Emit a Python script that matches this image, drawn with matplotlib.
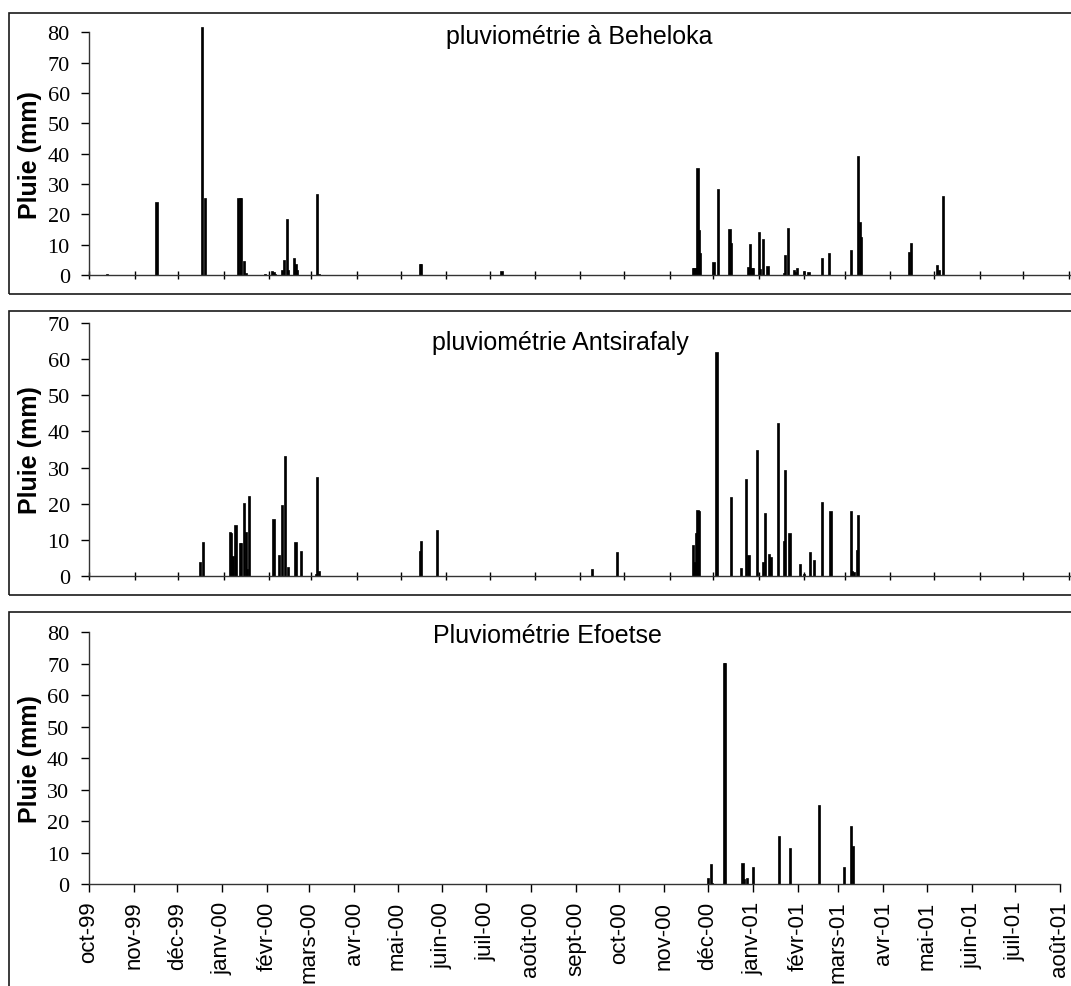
import matplotlib
matplotlib.use("Agg")
import matplotlib.pyplot as plt
import matplotlib.dates as mdates
from matplotlib.patches import Rectangle
import pandas as pd

# Daily rainfall (mm)
beheloka_dates = ["1999-10-13", "1999-11-16", "1999-12-17", "1999-12-19", "2000-01-11", "2000-01-12",
                  "2000-01-13", "2000-01-15", "2000-01-16", "2000-01-29", "2000-02-03", "2000-02-04",
                  "2000-02-05", "2000-02-10", "2000-02-11", "2000-02-13", "2000-02-14", "2000-02-18",
                  "2000-02-19", "2000-02-20", "2000-03-05", "2000-03-06", "2000-05-14", "2000-05-15",
                  "2000-07-09", "2000-11-17", "2000-11-18", "2000-11-19", "2000-11-20", "2000-11-21",
                  "2000-11-22", "2000-12-01", "2000-12-04", "2000-12-12", "2000-12-13", "2000-12-25",
                  "2000-12-26", "2000-12-27", "2000-12-28", "2001-01-01", "2001-01-02", "2001-01-04",
                  "2001-01-07", "2001-01-18", "2001-01-19", "2001-01-21", "2001-01-25", "2001-01-26",
                  "2001-01-27", "2001-02-01", "2001-02-04", "2001-02-13", "2001-02-18", "2001-03-05",
                  "2001-03-10", "2001-03-11", "2001-03-12", "2001-04-14", "2001-04-15", "2001-05-03",
                  "2001-05-04", "2001-05-07"]
beheloka_rain = [0.3, 24, 81.6, 25.4, 25.3, 25.3, 25.3, 4.7, 0.5, 0.3, 1.3, 1.0, 0.4, 1.5, 4.9, 18.3,
                 1.5, 5.6, 3.5, 1.5, 26.7, 0.3, 3.7, 3.7, 1.3, 2.4, 2.4, 2.4, 35.2, 14.8, 7.3, 4.4,
                 28.4, 15.3, 10.5, 2.5, 10.1, 2.3, 2.2, 14.1, 2.0, 11.9, 2.9, 0.8, 6.6, 15.4, 1.5,
                 1.0, 2.2, 1.4, 1.1, 5.5, 7.3, 8.3, 39.3, 17.6, 12.6, 7.5, 10.7, 3.3, 1.8, 26.2]

antsirafaly_dates = ["1999-12-16", "1999-12-18", "2000-01-05", "2000-01-06", "2000-01-07", "2000-01-09",
                     "2000-01-12", "2000-01-13", "2000-01-15", "2000-01-16", "2000-01-17", "2000-01-18",
                     "2000-02-04", "2000-02-08", "2000-02-10", "2000-02-12", "2000-02-14", "2000-02-19",
                     "2000-02-23", "2000-03-04", "2000-03-05", "2000-03-06", "2000-05-14", "2000-05-15",
                     "2000-05-26", "2000-09-09", "2000-09-26", "2000-11-17", "2000-11-18", "2000-11-19",
                     "2000-11-20", "2000-11-21", "2000-12-03", "2000-12-13", "2000-12-20", "2000-12-23",
                     "2000-12-25", "2000-12-31", "2001-01-04", "2001-01-05", "2001-01-08", "2001-01-09",
                     "2001-01-14", "2001-01-18", "2001-01-19", "2001-01-22", "2001-01-29", "2001-02-01",
                     "2001-02-05", "2001-02-08", "2001-02-13", "2001-02-19", "2001-03-05", "2001-03-06",
                     "2001-03-07", "2001-03-09", "2001-03-10"]
antsirafaly_rain = [4.0, 9.5, 12.1, 12.0, 5.5, 14.1, 9.0, 9.0, 20.1, 12.3, 2.0, 22.1, 15.7, 5.8, 19.6,
                    33.3, 2.5, 9.5, 7.0, 0.5, 27.4, 1.5, 7.0, 9.6, 12.8, 2.0, 6.7, 8.6, 4.0, 11.8, 18.2,
                    18.0, 62.0, 21.8, 2.3, 26.8, 5.8, 34.8, 4.0, 17.5, 6.0, 5.2, 42.2, 9.8, 29.3, 12.0,
                    3.3, 0.5, 6.7, 4.5, 20.5, 18.1, 18.0, 1.5, 1.0, 7.1, 17.0]

efoetse_dates = ["2000-12-01", "2000-12-03", "2000-12-04", "2000-12-12", "2000-12-13", "2000-12-25",
                 "2000-12-26", "2000-12-28", "2001-01-01", "2001-01-19", "2001-01-27", "2001-02-16",
                 "2001-03-05", "2001-03-10", "2001-03-11"]
efoetse_rain = [2.0, 6.2, 0.3, 70.2, 70.2, 6.8, 1.5, 2.0, 5.3, 15.2, 11.3, 25.2, 5.3, 18.3, 12.2]

month_labels = ["oct-99", "nov-99", "déc-99", "janv-00", "févr-00", "mars-00", "avr-00", "mai-00",
                "juin-00", "juil-00", "août-00", "sept-00", "oct-00", "nov-00", "déc-00", "janv-01",
                "févr-01", "mars-01", "avr-01", "mai-01", "juin-01", "juil-01", "août-01"]

titles = ["pluviométrie à Beheloka", "pluviométrie Antsirafaly", "Pluviométrie Efoetse"]
ymax = [80, 70, 80]

W, H = 1071, 987
fig = plt.figure(figsize=(W / 100, H / 100), dpi=100)

sans = "Liberation Sans"
serif = "Liberation Serif"
axis_col = "#333333"

month_ticks = mdates.date2num(pd.date_range("1999-10-01", "2001-08-01", freq="MS"))
start = mdates.date2num(pd.Timestamp("1999-10-01"))
end = mdates.date2num(pd.Timestamp("2001-08-01"))

# panel layout in pixels: (left, x at end date, top of y range, y of zero, extra days past end)
layout = [
    (89.3, 1068.7, 33.3, 276.0, 4),
    (89.3, 1068.7, 324.0, 577.0, 4),
    (88.8, 1060.0, 633.3, 885.0, 0),
]
frames = [(9, 14, 295), (9, 312, 596), (9, 613, 1000)]
title_pos = [(579, 44), (560, 350), (547, 643)]

series = [(beheloka_dates, beheloka_rain),
          (antsirafaly_dates, antsirafaly_rain),
          (efoetse_dates, efoetse_rain)]

for i, (dates, rain) in enumerate(series):
    left, xend, ytop, yzero, extra = layout[i]
    ppd = (xend - left) / (end - start)
    right = xend + extra * ppd
    ax = fig.add_axes([left / W, 1 - yzero / H, (right - left) / W, (yzero - ytop) / H])

    x = mdates.date2num(pd.to_datetime(dates))
    ax.bar(x, rain, width=1.5, color="black", edgecolor="black", linewidth=0.5, clip_on=False)

    ax.set_xlim(start, end + extra)
    ax.set_ylim(0, ymax[i])
    ax.set_yticks(range(0, ymax[i] + 1, 10))
    ax.set_xticks(month_ticks)

    for s in ["top", "right"]:
        ax.spines[s].set_visible(False)
    for s in ["left", "bottom"]:
        ax.spines[s].set_color(axis_col)
        ax.spines[s].set_linewidth(1.0)

    ax.tick_params(axis="y", direction="out", length=6, width=1, color="black", pad=8,
                   labelsize=16)
    for lab in ax.get_yticklabels():
        lab.set_fontfamily(serif)

    if i < 2:
        ax.tick_params(axis="x", direction="inout", length=6, width=1, color="black",
                       labelbottom=False)
    else:
        ax.tick_params(axis="x", direction="out", length=6, width=1, color="black", pad=6)
        ax.set_xticklabels(month_labels, rotation=90, fontsize=16, fontfamily=sans,
                           va="top", ha="center")

    ax.set_ylabel("Pluie (mm)", fontsize=18, fontweight="bold", fontfamily=sans)
    ax.yaxis.set_label_coords((42 - left) / (right - left), 0.5)

    tx, ty = title_pos[i]
    fig.text(tx / W, 1 - ty / H, titles[i], fontsize=18, fontfamily=sans,
             ha="center", va="baseline")

    fx, ftop, fbot = frames[i]
    fig.add_artist(Rectangle((fx / W, 1 - fbot / H), (1090 - fx) / W, (fbot - ftop) / H,
                             transform=fig.transFigure, fill=False, edgecolor="#1a1a1a",
                             linewidth=1.2, clip_on=False))

fig.savefig("out.png", dpi=100)
